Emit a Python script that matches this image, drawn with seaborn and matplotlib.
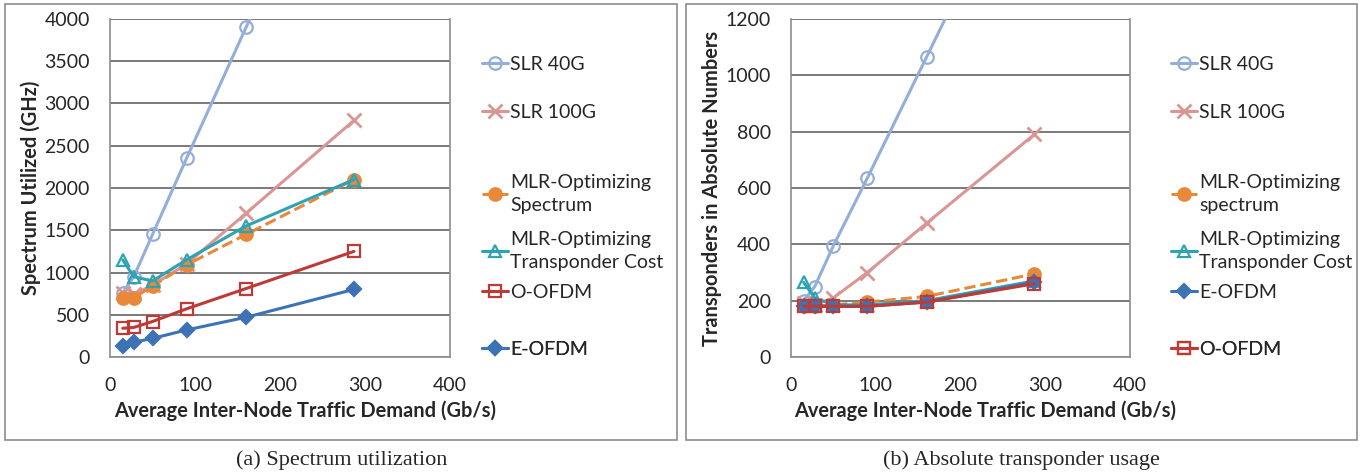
import matplotlib
matplotlib.use("Agg")
import matplotlib.pyplot as plt
import seaborn as sns
from matplotlib.patches import Rectangle

# ---------------------------------------------
# Data
# ---------------------------------------------
traffic = [15, 28, 50, 90, 160, 287]

# (a) spectrum utilized (GHz)
spec_slr40 = [760, 950, 1450, 2350, 3900, 6700]
spec_slr100 = [760, 740, 850, 1100, 1700, 2800]
spec_mlr_spec = [700, 700, 840, 1090, 1450, 2100]
spec_mlr_cost = [1150, 950, 900, 1150, 1550, 2100]
spec_oofdm = [340, 350, 420, 570, 810, 1250]
spec_eofdm = [130, 175, 220, 320, 470, 800]

# (b) transponders in absolute numbers
trp_slr40 = [200, 250, 395, 635, 1065, 1850]
trp_slr100 = [190, 185, 210, 300, 475, 790]
trp_mlr_spec = [180, 180, 185, 195, 215, 295]
trp_mlr_cost = [265, 210, 185, 185, 200, 270]
trp_eofdm = [180, 180, 180, 180, 195, 265]
trp_oofdm = [180, 180, 180, 180, 195, 260]

# series styles: color, marker, filled, linestyle
styles = {
    "SLR 40G": ("#94AEDA", "o", False, "-"),
    "SLR 100G": ("#D99694", "x", True, "-"),
    "MLR": ("#E8883A", "o", True, "--"),
    "MLR-T": ("#2EA3B3", "^", False, "-"),
    "O-OFDM": ("#BE3A37", "s", False, "-"),
    "E-OFDM": ("#3D72B4", "D", True, "-"),
}

sns.set_style("white")
plt.rcParams["font.family"] = ["Lato", "DejaVu Sans"]

fig = plt.figure(figsize=(13.69, 4.73), dpi=100)
W, H = 1369, 473


def draw_series(ax, y, key, label):
    color, marker, filled, ls = styles[key]
    kw = dict(color=color, linewidth=2.2, linestyle=ls, marker=marker,
              markersize=9, markeredgewidth=1.6,
              markeredgecolor=color, label=label)
    if marker == "D":
        kw["markersize"] = 7
    if marker == "x":
        kw["markersize"] = 9.5
        kw["markeredgewidth"] = 2
    kw["markerfacecolor"] = color if filled else "none"
    sns.lineplot(x=traffic, y=y, ax=ax, **kw)


def style_axes(ax, ymax, ystep, ylabel, ylab_x):
    ax.set_xlim(0, 400)
    ax.set_ylim(0, ymax)
    ax.set_xticks(range(0, 401, 100))
    ax.set_yticks(range(0, ymax + 1, ystep))
    ax.yaxis.grid(True, color="#6f6f6f", linewidth=1.3)
    ax.set_axisbelow(True)
    for side in ["left", "bottom", "right"]:
        ax.spines[side].set_color("#8c8c8c")
        ax.spines[side].set_linewidth(1.2)
    ax.spines["top"].set_visible(False)
    ax.tick_params(axis="both", labelsize=14, length=5.5, width=1,
                   color="#8c8c8c", direction="out")
    ax.tick_params(axis="y", pad=9)
    ax.tick_params(axis="x", pad=9)
    ax.set_xlabel("Average Inter-Node Traffic Demand (Gb/s)",
                  fontsize=14.4, fontweight="bold")
    ax.xaxis.set_label_coords(0.574, -0.127)
    ax.set_ylabel(ylabel, fontsize=14.4, fontweight="bold")
    ax.yaxis.set_label_coords(ylab_x, 0.5)


def place_legend(ax, order, x_frac, y_pixels):
    # one legend block per entry, Excel-style spacing down the right side
    handles, labels = ax.get_legend_handles_labels()
    for i, ypx in zip(order, y_pixels):
        yfrac = (357 - ypx) / 338
        leg = ax.legend([handles[i]], [labels[i]], loc="center left",
                        bbox_to_anchor=(x_frac, yfrac), frameon=False,
                        fontsize=14, handlelength=1.35, handletextpad=0.1,
                        borderpad=0, borderaxespad=0)
        for t in leg.get_texts():
            t.set_linespacing(1.4)
        ax.add_artist(leg)


legend_rows = [64, 112, 194, 251, 292, 349]

# ---------------------------------------------
# Panel (a): spectrum utilization
# ---------------------------------------------
ax1 = fig.add_axes([110 / W, 1 - 357 / H, 340 / W, 338 / H])
draw_series(ax1, spec_slr40, "SLR 40G", "SLR 40G")
draw_series(ax1, spec_slr100, "SLR 100G", "SLR 100G")
draw_series(ax1, spec_mlr_spec, "MLR", "MLR-Optimizing\nSpectrum")
draw_series(ax1, spec_mlr_cost, "MLR-T", "MLR-Optimizing\nTransponder Cost")
draw_series(ax1, spec_eofdm, "E-OFDM", "E-OFDM")
draw_series(ax1, spec_oofdm, "O-OFDM", "O-OFDM")
style_axes(ax1, 4000, 500, "Spectrum Utilized (GHz)", (41 - 110) / 340)
place_legend(ax1, [0, 1, 2, 3, 5, 4], (482 - 110) / 340, legend_rows)

# ---------------------------------------------
# Panel (b): absolute transponder usage
# ---------------------------------------------
ax2 = fig.add_axes([791 / W, 1 - 357 / H, 339 / W, 338 / H])
draw_series(ax2, trp_slr40, "SLR 40G", "SLR 40G")
draw_series(ax2, trp_slr100, "SLR 100G", "SLR 100G")
draw_series(ax2, trp_mlr_spec, "MLR", "MLR-Optimizing\nspectrum")
draw_series(ax2, trp_mlr_cost, "MLR-T", "MLR-Optimizing\nTransponder Cost")
draw_series(ax2, trp_eofdm, "E-OFDM", "E-OFDM")
draw_series(ax2, trp_oofdm, "O-OFDM", "O-OFDM")
style_axes(ax2, 1200, 200, "Transponders in Absolute Numbers", (722 - 791) / 339)
place_legend(ax2, [0, 1, 2, 3, 4, 5], (1171 - 791) / 339, legend_rows)

# panel frames and captions
for x0, x1 in [(5, 677), (686, 1357)]:
    fig.patches.append(Rectangle((x0 / W, 1 - 440 / H), (x1 - x0) / W,
                                 (440 - 4) / H, transform=fig.transFigure,
                                 fill=False, edgecolor="#8c8c8c", linewidth=1.2))

fig.text(342 / W, 1 - 460 / H, "(a) Spectrum utilization", ha="center",
         va="center", fontsize=16, family="Liberation Serif")
fig.text(1021 / W, 1 - 460 / H, "(b) Absolute transponder usage", ha="center",
         va="center", fontsize=16, family="Liberation Serif")

fig.savefig("out.png", dpi=100)
